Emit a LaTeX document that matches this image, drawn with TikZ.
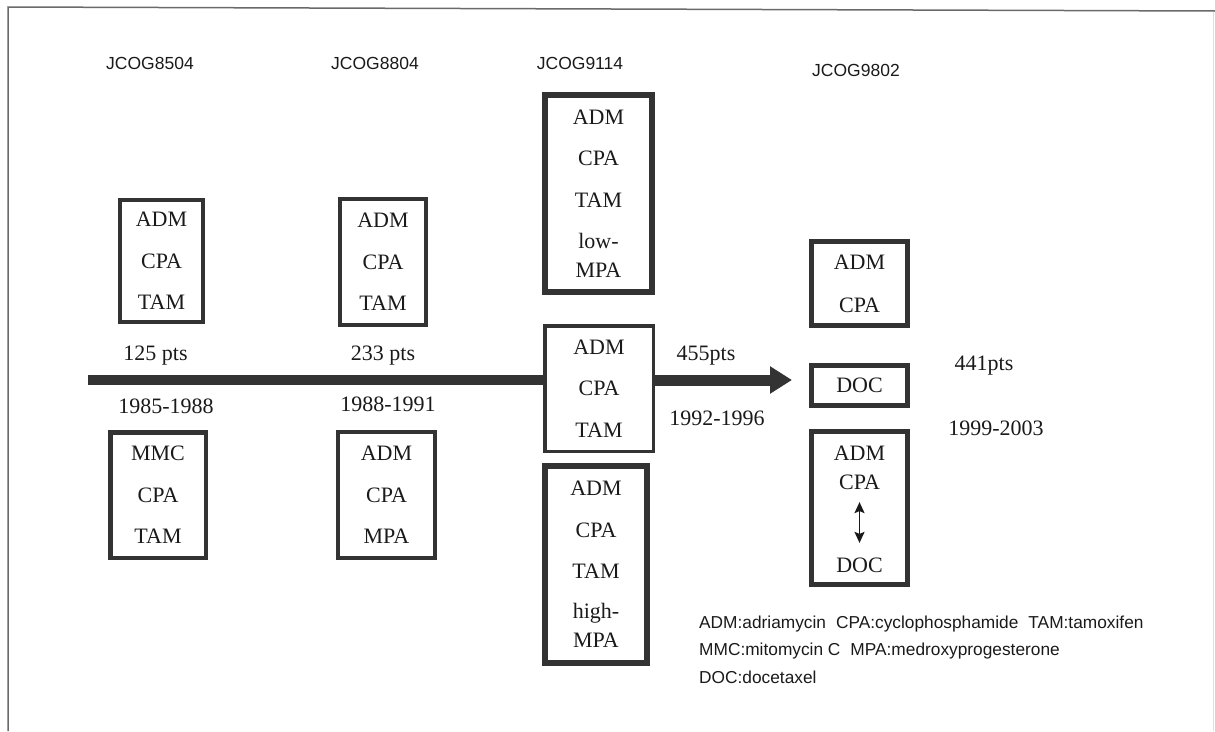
\documentclass[tikz,border=0pt]{standalone}
\usepackage{fontspec}
\setmainfont{Liberation Serif}
\newfontfamily\arialf{Liberation Sans}
\usetikzlibrary{arrows.meta}
\definecolor{ink}{HTML}{1A1A1A}
\definecolor{boxc}{HTML}{333333}
\definecolor{framec}{HTML}{6A6A6A}
\tikzset{
  drugbox/.style={draw=boxc, rectangle, inner sep=0pt, align=center, text=ink,
    font=\fontsize{22}{41.5}\selectfont},
  lbl/.style={anchor=base, inner sep=0pt, text=ink, font=\fontsize{22}{26}\selectfont},
  drug/.style={inner sep=0pt, text=ink, font=\fontsize{22}{26}\selectfont},
  hdr/.style={anchor=base, inner sep=0pt, text=ink, font=\arialf\fontsize{17.5}{21}\selectfont},
  legend/.style={anchor=base west, inner sep=0pt, text=ink, font=\arialf\fontsize{17.3}{20}\selectfont},
  timeline/.style={draw=boxc, line width=10pt},
  bigarrow/.style={draw=boxc, line width=11pt, -{Triangle[length=22pt,width=26pt]}},
  dblarrow/.style={draw=ink, line width=1.8pt, {Stealth[length=11pt,width=10pt,inset=2pt]}-{Stealth[length=11pt,width=10pt,inset=2pt]}},
}
\begin{document}
\begin{tikzpicture}[x=1pt,y=-1pt]
\useasboundingbox (0,0) rectangle (1215,731);
% frame
\coordinate (fTL) at (8,7);
\coordinate (fTR) at (1215,11);
\coordinate (fBL) at (8,731);
\coordinate (fRT) at (1213,12);
\coordinate (fRB) at (1213,731);
\draw[framec, line width=1.5pt] (fBL) -- (fTL) -- (fTR);
\draw[gray!25, line width=0.8pt] (fRT) -- (fRB);

% headers
\node[hdr] (h1) at (150,69.3) {JCOG8504};
\node[hdr] (h2) at (375,69.3) {JCOG8804};
\node[hdr] (h3) at (580,69.3) {JCOG9114};
\node[hdr] (h4) at (856,76.3) {JCOG9802};

% JCOG8504
\node[drugbox, line width=4.2pt, minimum width=83pt, minimum height=122pt] (b1t) at (161.5,261) {ADM\\CPA\\TAM};
\node[drugbox, line width=4.5pt, minimum width=95.5pt, minimum height=125.5pt] (b1b) at (158,495) {MMC\\CPA\\TAM};
\node[lbl] (p1) at (155.5,360.5) {125 pts};
\node[lbl] (y1) at (166,413) {1985-1988};

% JCOG8804
\node[drugbox, line width=4.2pt, minimum width=86pt, minimum height=126pt] (b2t) at (383,262) {ADM\\CPA\\TAM};
\node[drugbox, line width=4.2pt, minimum width=97pt, minimum height=126pt] (b2b) at (386.5,495) {ADM\\CPA\\MPA};
\node[lbl] (p2) at (383,360.5) {233 pts};
\node[lbl] (y2) at (388,411) {1988-1991};

% JCOG9114
\node[drugbox, line width=6pt, minimum width=107pt, minimum height=197pt] (b3a) at (598.5,193.5) {ADM\\CPA\\TAM\\low-\\[-12.5pt]MPA};
\node[drugbox, line width=3.5pt, minimum width=108.5pt, minimum height=125.5pt] (b3b) at (599,388.5) {ADM\\CPA\\TAM};
\node[drugbox, line width=6pt, minimum width=102pt, minimum height=197pt] (b3c) at (596,564.5) {ADM\\CPA\\TAM\\[-1.5pt]high-\\[-12.5pt]MPA};
\node[lbl] (p3) at (706,360.5) {455pts};
\node[lbl] (y3) at (717,425.5) {1992-1996};

% JCOG9802
\node[drugbox, line width=5pt, minimum width=96pt, minimum height=84pt] (b4a) at (859.5,283.5) {ADM\\[1.5pt]CPA};
\node[drugbox, line width=5pt, minimum width=96pt, minimum height=40pt] (b4b) at (859.5,385.5) {DOC};
\node[drugbox, line width=5pt, minimum width=96pt, minimum height=153pt] (b4c) at (859.5,508) {};
\node[drug] (t4c1) at (859.5,453) {ADM};
\node[drug] (t4c2) at (859.5,482) {CPA};
\node[drug] (t4c3) at (859.5,565) {DOC};
\draw[dblarrow, shorten <=12.5pt, shorten >=14.5pt] (t4c2) -- (t4c3);
\node[lbl] (p4) at (984,370.5) {441pts};
\node[lbl] (y4) at (996,435.5) {1999-2003};

% timeline and arrow
\coordinate (tl) at (88,380);
\draw[timeline] (tl) -- (tl -| b3b.west);
\draw[bigarrow, shorten >=17pt] (tl -| b3b.east) -- (tl -| b4b.west);

% legend
\node[legend] (lg1) at (699,628) {ADM:adriamycin\hspace{10pt}CPA:cyclophosphamide\hspace{10pt}TAM:tamoxifen};
\node[legend] (lg2) at (699,655.5) {MMC:mitomycin C\hspace{10pt}MPA:medroxyprogesterone};
\node[legend] (lg3) at (699,683) {DOC:docetaxel};
\end{tikzpicture}
\end{document}
